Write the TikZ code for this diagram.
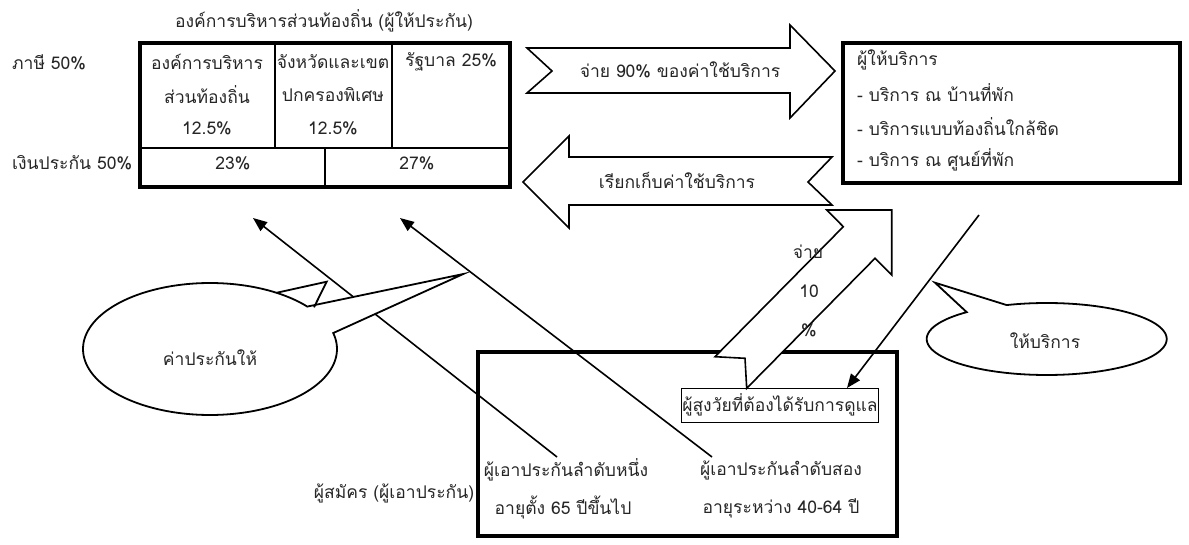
\documentclass[tikz,border=0pt]{standalone}
\usepackage{fontspec}
\setmainfont[Script=Thai]{Loma}
\usetikzlibrary{arrows.meta}
\begin{document}
\begin{tikzpicture}[x=1pt,y=-1pt,
  font=\fontsize{17.5}{21}\selectfont,
  txt/.style={inner sep=0pt,anchor=center,text=black!85},
  ltxt/.style={inner sep=0pt,anchor=west,text=black!85},
  thickbox/.style={draw,line width=3.5pt},
  thinline/.style={line width=1.2pt},
  blockarrow/.style={draw,line width=1.6pt,fill=white,line join=miter},
  conn/.style={line width=1.6pt,-{Triangle[length=14pt,width=11pt]}},
  callout/.style={draw,line width=1.8pt,fill=white,line join=miter}]
\useasboundingbox (0,0) rectangle (1189,545);

% ---- insurer table ----
\node[txt] (title) at (324,21) {องค์การบริหารส่วนท้องถิ่น (ผู้ให้ประกัน)};
\draw[line width=2.5pt] (140,148) -- (510,148);
\draw[thinline] (275,43) -- (275,148) (392,43) -- (392,148) (325,148) -- (325,187);
\draw[thickbox] (140,43) rectangle (510,187);
\node[ltxt] (tax) at (12,62) {ภาษี 50\%};
\node[ltxt] (dep) at (12,163) {เงินประกัน 50\%};
\node[txt] (c11) at (207,62) {องค์การบริหาร};
\node[txt] (c12) at (207,95) {ส่วนท้องถิ่น};
\node[txt] (c13) at (207,128) {12.5\%};
\node[txt] (c21) at (333,62) {จังหวัดและเขต};
\node[txt] (c22) at (333,95) {ปกครองพิเศษ};
\node[txt] (c23) at (333,128) {12.5\%};
\node[txt] (c31) at (451,62) {รัฐบาล 25\%};
\node[txt] (b1) at (233,163) {23\%};
\node[txt] (b2) at (417,163) {27\%};

% ---- provider box ----
\draw[thickbox] (843,43) rectangle (1180,183);
\node[ltxt] (p0) at (857,60) {ผู้ให้บริการ};
\node[ltxt] (p1) at (857,93) {- บริการ ณ บ้านที่พัก};
\node[ltxt] (p2) at (857,127) {- บริการแบบท้องถิ่นใกล้ชิด};
\node[ltxt] (p3) at (857,160) {- บริการ ณ ศูนย์ที่พัก};

% ---- block arrows ----
\draw[blockarrow] (527,48) -- (790,48) -- (790,25) -- (835,71) -- (790,118)
  -- (790,93) -- (527,93) -- (552,71) -- cycle;
\node[txt] (pay90) at (680,70) {จ่าย 90\% ของค่าใช้บริการ};
\draw[blockarrow] (523,182) -- (569,136) -- (569,157) -- (832,157) -- (808,182)
  -- (832,205) -- (569,205) -- (569,228) -- cycle;
\node[txt] (charge) at (677,180) {เรียกเก็บค่าใช้บริการ};

% ---- insured box ----
\draw[thickbox] (478,352) rectangle (897,536);
\draw[blockarrow] (891.7,210) -- (891.7,275) -- (875,258.3) -- (746.7,388.3)
  -- (745,358.3) -- (715,356.7) -- (843.3,226.7) -- (826.7,210) -- cycle;
\node[txt] (pay10a) at (808,252) {จ่าย};
\node[txt] (pay10b) at (809,291) {10};
\node[txt] (pay10c) at (809,330) {\%};
\node[draw,line width=0.9pt,inner sep=1pt,minimum width=195pt,minimum height=34pt,text=black!85] (elder) at (780,405) {ผู้สูงวัยที่ต้องได้รับการดูแล};
\node[txt] (ins1a) at (566,470) {ผู้เอาประกันลำดับหนึ่ง};
\node[txt] (ins1b) at (563,508) {อายุตั้ง 65 ปีขึ้นไป};
\node[txt] (ins2a) at (781,470) {ผู้เอาประกันลำดับสอง};
\node[txt] (ins2b) at (781,508) {อายุระหว่าง 40-64 ปี};
\node[txt] (appl) at (394,493) {ผู้สมัคร (ผู้เอาประกัน)};

% ---- connectors ----
\coordinate (s1) at (557,457);
\coordinate (e1) at (253,218);
\coordinate (s2) at (712,457);
\coordinate (e2) at (400,218);
\coordinate (s3) at (979,215);
\coordinate (e3) at (847,388);
\draw[conn] (s1) -- (e1);
\draw[conn] (s2) -- (e2);
\draw[conn] (s3) -- (e3);

% ---- callouts ----
\draw[callout] plot[domain=-14:320,samples=150] ({210+127*cos(\x)},{349+66*sin(\x)})
  -- (463.3,274) -- cycle;
\draw[line width=1.8pt,line join=miter] (276.5,292.8) -- (326.7,281.7) -- (314,307.3);
\node[txt] (premium) at (210,358) {ค่าประกันให้};
\draw[callout] plot[domain=250.5:588.2,samples=150] ({1046.7+120*cos(\x)},{339+36*sin(\x)})
  -- (935,282.7) -- cycle;
\node[txt] (serve) at (1045,341) {ให้บริการ};
\end{tikzpicture}
\end{document}
